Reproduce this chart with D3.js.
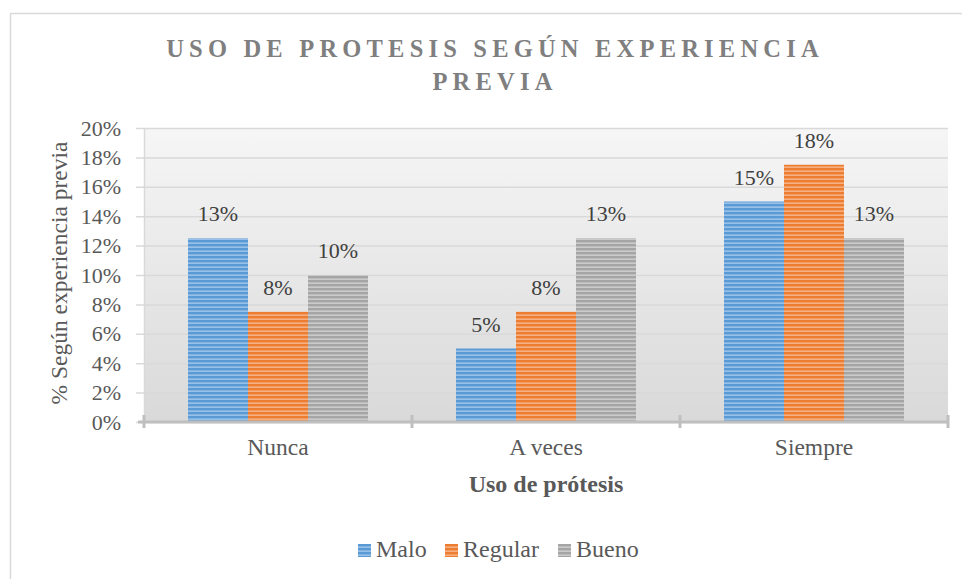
<!DOCTYPE html>
<html lang="es">
<head>
<meta charset="utf-8">
<script src="https://cdn.jsdelivr.net/npm/d3@7"></script>
<style>
  html, body { margin: 0; padding: 0; background: #fff; }
  svg { display: block; }
  svg text { font-family: 'Liberation Serif', 'Times New Roman', Times, 'DejaVu Serif', serif !important; }
</style>
</head>
<body>
<svg id="grafico" width="962" height="579"></svg>
<script>
// Datos del gráfico (en %)
const categorias = ["Nunca", "A veces", "Siempre"];
const series = ["Malo", "Regular", "Bueno"];
const valoresMalo = [12.5, 5, 15];
const valoresRegular = [7.5, 7.5, 17.5];
const valoresBueno = [10, 12.5, 12.5];
const ticksY = [0, 2, 4, 6, 8, 10, 12, 14, 16, 18, 20];

const valores = { Malo: valoresMalo, Regular: valoresRegular, Bueno: valoresBueno };
const colores = {
    Malo: { base: "#5b9bd5", claro: "#a8cbec" },
    Regular: { base: "#ed7d31", claro: "#f7bb93" },
    Bueno: { base: "#a5a5a5", claro: "#d3d3d3" }
};

const datos = categorias.map((c, i) => ({
    categoria: c,
    items: series.map(s => ({ serie: s, valor: valores[s][i] }))
}));

const margin = { top: 128, right: 14, bottom: 157, left: 144 };
const width = 962, height = 579;
const innerWidth = width - margin.left - margin.right;
const innerHeight = height - margin.top - margin.bottom;

const svg = d3.select("#grafico");
const defs = svg.append("defs");

// Degradado del fondo del área de trazado
const grad = defs.append("linearGradient")
    .attr("id", "fondo").attr("x1", "0%").attr("y1", "0%").attr("x2", "0%").attr("y2", "100%");
grad.append("stop").attr("offset", "0%").attr("stop-color", "#f6f6f6");
grad.append("stop").attr("offset", "100%").attr("stop-color", "#d9d9d9");

// Tramas de líneas horizontales para las barras
series.forEach(s => {
    const p = defs.append("pattern")
        .attr("id", "trama-" + s)
        .attr("patternUnits", "userSpaceOnUse")
        .attr("width", 8).attr("height", 4);
    p.append("rect").attr("width", 8).attr("height", 4).attr("fill", colores[s].base);
    p.append("rect").attr("y", 2.5).attr("width", 8).attr("height", 1.3).attr("fill", colores[s].claro);
});

// Marco exterior (solo se ven los bordes superior e izquierdo)
svg.append("path")
    .attr("d", `M10.5,${height} V13.5 H${width}`)
    .attr("fill", "none").attr("stroke", "#d9d9d9").attr("stroke-width", 1.5);

// Título
const titulo = svg.append("text")
    .attr("text-anchor", "middle")
    .attr("fill", "#7f7f7f")
    .attr("font-weight", "bold")
    .attr("font-size", "24.5px")
    .attr("letter-spacing", "5.2px");
titulo.append("tspan").attr("x", 495).attr("y", 57).text("USO DE PROTESIS SEGÚN EXPERIENCIA");
titulo.append("tspan").attr("x", 495).attr("y", 90).text("PREVIA");

const g = svg.append("g").attr("transform", `translate(${margin.left},${margin.top})`);

const x0 = d3.scaleBand().domain(categorias).range([0, innerWidth]).padding(0);
const x1 = d3.scaleBand().domain(series).range([0, x0.bandwidth()]).paddingInner(0).paddingOuter(0.733);
const y = d3.scaleLinear().domain([0, 20]).range([innerHeight, 0]);

g.append("rect")
    .attr("width", innerWidth).attr("height", innerHeight)
    .attr("fill", "url(#fondo)");

// Líneas de cuadrícula + etiquetas del eje Y
const ejeY = g.append("g").call(
    d3.axisLeft(y).tickValues(ticksY).tickSize(-innerWidth).tickSizeOuter(0).tickFormat(d => d + "%")
);
ejeY.attr("font-family", null);
ejeY.select(".domain").attr("stroke", "#d9d9d9").attr("stroke-width", 1.5);
ejeY.selectAll(".tick line").attr("stroke", "#d9d9d9").attr("stroke-width", 1.5).attr("x1", -8);
ejeY.selectAll(".tick text")
    .attr("x", -23)
    .attr("fill", "#595959")
    .attr("font-size", "22px");

// Barras
const grupos = g.selectAll(".grupo")
    .data(datos)
    .enter().append("g")
    .attr("class", "grupo")
    .attr("transform", d => `translate(${x0(d.categoria)},0)`);

grupos.selectAll("rect")
    .data(d => d.items)
    .enter().append("rect")
    .attr("x", d => x1(d.serie))
    .attr("y", d => y(d.valor))
    .attr("width", x1.bandwidth())
    .attr("height", d => innerHeight - y(d.valor))
    .attr("fill", d => `url(#trama-${d.serie})`);

grupos.selectAll(".etiqueta")
    .data(d => d.items)
    .enter().append("text")
    .attr("class", "etiqueta")
    .attr("x", d => x1(d.serie) + x1.bandwidth() / 2)
    .attr("y", d => y(d.valor) - 17)
    .attr("text-anchor", "middle")
    .attr("fill", "#404040")
    .attr("font-size", "22px")
    .text(d => Math.round(d.valor) + "%");

// Eje X
const ejeX = g.append("g")
    .attr("transform", `translate(0,${innerHeight})`)
    .call(d3.axisBottom(x0).tickSize(0));
ejeX.attr("font-family", null);
ejeX.select(".domain").remove();
ejeX.append("line")
    .attr("x1", -6).attr("x2", innerWidth)
    .attr("stroke", "#bfbfbf").attr("stroke-width", 3);
ejeX.selectAll(".divisor")
    .data(d3.range(categorias.length + 1))
    .enter().append("line")
    .attr("class", "divisor")
    .attr("x1", i => i * x0.bandwidth()).attr("x2", i => i * x0.bandwidth())
    .attr("y1", -7).attr("y2", 6)
    .attr("stroke", "#bfbfbf").attr("stroke-width", 3);
ejeX.selectAll(".tick text")
    .attr("y", 33)
    .attr("dy", 0)
    .attr("fill", "#595959")
    .attr("font-size", "23.5px");

// Títulos de ejes
svg.append("text")
    .attr("x", margin.left + innerWidth / 2)
    .attr("y", 492)
    .attr("text-anchor", "middle")
    .attr("fill", "#595959")
    .attr("font-weight", "bold")
    .attr("font-size", "24px")
    .text("Uso de prótesis");

svg.append("text")
    .attr("transform", `translate(67,${margin.top + innerHeight / 2 - 2}) rotate(-90)`)
    .attr("text-anchor", "middle")
    .attr("fill", "#595959")
    .attr("font-size", "23.5px")
    .text("% Según experiencia previa");

// Leyenda
const posLeyenda = [358, 445, 558];
const leyenda = svg.append("g").selectAll("g")
    .data(series)
    .enter().append("g")
    .attr("transform", (d, i) => `translate(${posLeyenda[i]},544)`);
leyenda.append("rect")
    .attr("width", 13).attr("height", 13)
    .attr("fill", d => `url(#trama-${d})`);
leyenda.append("text")
    .attr("x", 18).attr("y", 13)
    .attr("fill", "#595959")
    .attr("font-size", "24px")
    .text(d => d);
</script>
</body>
</html>
